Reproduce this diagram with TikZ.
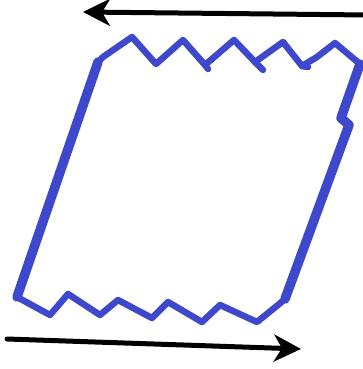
\documentclass[tikz,border=0pt]{standalone}
\usetikzlibrary{arrows.meta}
\definecolor{sheetblue}{RGB}{62,72,204}
\begin{document}
\begin{tikzpicture}[x=1pt,y=-1pt,
  edge/.style={draw=sheetblue,line width=9.5pt,line cap=round,line join=round},
  zig/.style={draw=sheetblue,line width=6.5pt,line cap=round,line join=round},
  force/.style={draw=black,line width=5pt,line cap=round,
    -{Stealth[length=27pt,width=27pt,inset=8pt]}}]
\useasboundingbox (0,0) rectangle (363,369);
% force arrows
\coordinate (ta) at (368,15);
\coordinate (tb) at (83,12);
\coordinate (ba) at (7,339);
\coordinate (bb) at (301,349);
\draw[force] (ta) -- (tb);
\draw[force] (ba) -- (bb);
% corners
\coordinate (tl) at (98,62);
\coordinate (bl) at (17,297);
\coordinate (br) at (285,299);
\coordinate (tr) at (360,64);
% top zigzag
\draw[zig] (tl) -- (103,57) -- (132,37) -- (156,64) -- (183,40) -- (205,65)
  -- (234,40) -- (255,62) -- (283,42) -- (302,66) -- (317,57) -- (335,43) -- (tr);
\draw[zig] (205,65) -- (208,69);
\draw[zig] (255,62) -- (263,70);
\draw[zig] (302,66) -- (308,67);
% bottom zigzag
\draw[zig] (bl) -- (50,315) -- (68,294) -- (100,315) -- (118,300) -- (152,318)
  -- (168,302) -- (202,322) -- (220,305) -- (257,322) -- (278,305) -- (br);
% sides
\draw[edge] (bl) -- (tl);
\draw[edge] (tr) -- (341,118) -- (349,125) -- (br);
\end{tikzpicture}
\end{document}
